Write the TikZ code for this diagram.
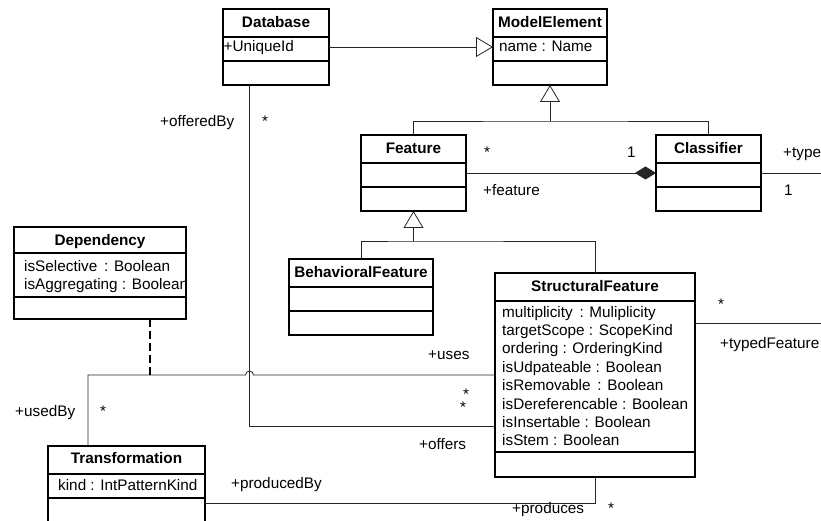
\documentclass[tikz,border=0pt]{standalone}
\usepackage{fontspec}
\setmainfont{Liberation Sans}
\usetikzlibrary{arrows.meta,calc}
\newcommand{\uf}{\fontsize{15.3}{18.4}\selectfont}
\newcommand{\umlclass}[7]{%
  \node[clsbox, minimum width=#4pt, minimum height=#5pt, anchor=north west] (#1) at (#2,#3) {};
  \draw[clsline] ([yshift=-#6pt]#1.north west) -- ([yshift=-#6pt]#1.north east);
  \draw[clsline] ([yshift=-#7pt]#1.north west) -- ([yshift=-#7pt]#1.north east);
}
\begin{document}
\begin{tikzpicture}[x=1pt,y=-1pt,
  clsbox/.style={draw=black, line width=1.1pt, fill=white, inner sep=0pt, outer sep=0pt},
  clsline/.style={line width=1.1pt},
  title/.style={anchor=base, inner sep=0pt, font=\uf\bfseries},
  attr/.style={anchor=base west, inner sep=0pt, font=\uf},
  lab/.style={anchor=base west, inner sep=0pt, font=\uf},
  conn/.style={line width=0.8pt, draw=black!85},
  gen/.style={conn, -{Triangle[open, length=17pt, width=20pt, line width=0.8pt]}},
  comp/.style={conn, -{Diamond[length=21pt, width=13pt]}},
  depline/.style={line width=2.6pt, dash pattern=on 8pt off 4pt},
]
\useasboundingbox (0,0) rectangle (821,521);
\clip (0,0) rectangle (821,521);
\fill[white] (0,0) rectangle (821,521);

% classes
\umlclass{db}{223}{9}{106}{76}{28}{52}
\umlclass{me}{493}{9}{114}{76}{28}{52}
\umlclass{fe}{361}{135}{105}{76}{28}{52}
\umlclass{cl}{656}{135}{105}{76}{28}{52}
\umlclass{bf}{289}{259}{144}{76}{28}{52}
\umlclass{sf}{495}{273}{200}{204}{28}{179}
\umlclass{dep}{14}{227}{172}{92}{26}{70}
\umlclass{tr}{48}{446}{157}{114}{28}{52}

% titles
\node[title] (db-t) at ([yshift=-18.5pt]db.north) {Database};
\node[title] (me-t) at ([yshift=-18.5pt]me.north) {ModelElement};
\node[title] (fe-t) at ([yshift=-19pt]fe.north) {Feature};
\node[title] (cl-t) at ([yshift=-19pt]cl.north) {Classifier};
\node[title] (bf-t) at ([yshift=-18.5pt]bf.north) {BehavioralFeature};
\node[title] (sf-t) at ([yshift=-18.5pt]sf.north) {StructuralFeature};
\node[title] (dep-t) at ([yshift=-19pt]dep.north) {Dependency};
\node[title] (tr-t) at ([yshift=-17.5pt]tr.north) {Transformation};

% attributes
\node[attr] (db-a1) at (223.5,52) {+UniqueId};
\node[attr] (me-a1) at (499,52) {name : Name};
\node[attr] (dep-a1) at (24,271) {isSelective\, : Boolean};
\node[attr] (dep-a2) at (24,289) {isAggregating : Boolean};
\foreach \t [count=\i from 0] in {multiplicity\, : Muliplicity, targetScope : ScopeKind, ordering : OrderingKind, isUdpateable : Boolean, isRemovable\, : Boolean, isDereferencable : Boolean, isInsertable : Boolean, isStem : Boolean}
  \node[attr] (sf-a\i) at (502,317+18.4*\i) {\t};
\node[attr] (tr-a1) at (58,490) {kind : IntPatternKind};

% helper coordinates
\coordinate (rightedge) at (821,0);
\coordinate (dbport) at ($(db.south west)!0.25!(db.south east)$);
\coordinate (trport) at ($(tr.north west)!0.255!(tr.north east)$);
\coordinate (depport) at ($(dep.south west)!0.79!(dep.south east)$);
\coordinate (sfoff) at ($(sf.north west)!0.75!(sf.south west)$);
\coordinate (sftyp) at ($(sf.north east)!0.245!(sf.south east)$);
\coordinate (jump) at (dbport |- sf.west);
\coordinate (depend) at (depport |- sf.west);
\coordinate (j1) at ($(me.south)+(0,36)$);
\coordinate (j2) at ($(fe.south)+(0,30)$);

% connectors
\draw[gen] (db.east) -- (me.west);
\draw[gen] (me.south |- j1) -- (me.south);
\draw[conn] (fe.north) |- (j1) -| (cl.north);
\draw[comp] (fe.east) -- (cl.west);
\draw[conn] (cl.east) -- (cl.east -| rightedge);
\draw[gen] (fe.south |- j2) -- (fe.south);
\draw[conn] (bf.north) |- (j2) -| (sf.north);
\draw[conn] (sftyp) -- (sftyp -| rightedge);
\draw[conn] (dbport) |- (sfoff);
\draw[conn] (trport) |- ([xshift=-4pt]jump) arc[start angle=180, end angle=0, radius=4pt] -- (sf.west);
\draw[depline] (depport) -- (depend);
\draw[conn] (tr.east) -| (sf.south);

% labels
\node[lab] (l-offeredby) at (160,127) {+offeredBy};
\node[lab] (l-offeredby-m) at (262,127) {*};
\node[lab] (l-feat-m) at (484,158) {*};
\node[lab] (l-cls-m) at (627,158) {1};
\node[lab] (l-feature) at (483,196) {+feature};
\node[lab] (l-type) at (783,158) {+type};
\node[lab] (l-type-m) at (784,196) {1};
\node[lab] (l-typedf-m) at (718,309) {*};
\node[lab] (l-typedf) at (720,348) {+typedFeature};
\node[lab] (l-uses) at (428,359) {+uses};
\node[lab] (l-uses-m) at (463,399) {*};
\node[lab] (l-offers-m) at (460,412) {*};
\node[lab] (l-offers) at (419,449) {+offers};
\node[lab] (l-usedby) at (15,416) {+usedBy};
\node[lab] (l-usedby-m) at (100,416) {*};
\node[lab] (l-producedby) at (231,488) {+producedBy};
\node[lab] (l-produces) at (512,513) {+produces};
\node[lab] (l-produces-m) at (608,513) {*};
\end{tikzpicture}
\end{document}
